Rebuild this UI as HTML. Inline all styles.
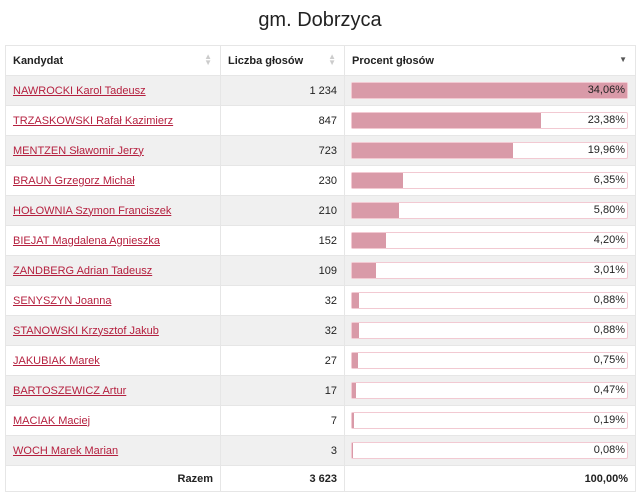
<!DOCTYPE html>
<html><head><meta charset="utf-8"><style>
body{margin:0;background:#fff;font-family:"Liberation Sans",sans-serif;width:640px;height:496px;overflow:hidden}
h1{margin:0;position:absolute;top:9px;left:0;width:640px;text-align:center;font-weight:normal;font-size:20px;color:#222}
table{position:absolute;left:5px;top:45px;width:631px;border-collapse:collapse;font-size:11px;color:#222}
td,th{border:1px solid #e6e6e6;padding:0 7px;height:29px}
th{text-align:left;font-weight:bold;height:29px;position:relative}
th .s{position:absolute;right:8px;top:8px;color:#ccc;font-size:8px;line-height:6px}
tr.r:nth-child(odd) td{background:#f0f0f0}
a{color:#b5203f;text-decoration:underline}
.n{text-align:right}
.bar{position:relative;height:15px;border:1px solid #f2c9d2;border-radius:2px;background:#fff;margin-left:-1px}
.fill{position:absolute;left:0;top:0;bottom:0;background:#d99aa8}
.bar span{position:absolute;right:2px;top:1px}
tfoot td{font-weight:bold;text-align:right;height:25px}
</style></head><body>
<h1>gm. Dobrzyca</h1>
<table>
<thead><tr>
<th style="width:200px">Kandydat<span class="s">▲<br>▼</span></th>
<th style="width:109px">Liczba głosów<span class="s">▲<br>▼</span></th>
<th>Procent głosów<span class="s" style="color:#555;top:11px">▼</span></th>
</tr></thead>
<tbody id="tb"></tbody>
<tfoot><tr><td>Razem</td><td>3 623</td><td>100,00%</td></tr></tfoot>
</table>
<script>
const names=["NAWROCKI Karol Tadeusz","TRZASKOWSKI Rafał Kazimierz","MENTZEN Sławomir Jerzy","BRAUN Grzegorz Michał","HOŁOWNIA Szymon Franciszek","BIEJAT Magdalena Agnieszka","ZANDBERG Adrian Tadeusz","SENYSZYN Joanna","STANOWSKI Krzysztof Jakub","JAKUBIAK Marek","BARTOSZEWICZ Artur","MACIAK Maciej","WOCH Marek Marian"];
const votes=[1234,847,723,230,210,152,109,32,32,27,17,7,3];
const percents=[34.06,23.38,19.96,6.35,5.80,4.20,3.01,0.88,0.88,0.75,0.47,0.19,0.08];
const tb=document.getElementById('tb');
const maxP=Math.max(...percents);
const fmtV=v=>String(v).replace(/\B(?=(\d{3})+(?!\d))/g,' ');
names.forEach((n,i)=>{
  const tr=document.createElement('tr');tr.className='r';
  
  
  const td1=document.createElement('td');
  const a=document.createElement('a');a.href='#';a.textContent=n;
  
  
  td1.appendChild(a);
  const td2=document.createElement('td');td2.className='n';td2.textContent=fmtV(votes[i]);
  
  
  const td3=document.createElement('td');
  const bar=document.createElement('div');bar.className='bar';
  
  
  const f=document.createElement('div');f.className='fill';f.style.width=(percents[i]/maxP*100)+'%';
  
  
  const s=document.createElement('span');s.textContent=percents[i].toFixed(2).replace('.',',')+'%';
  
  
  bar.appendChild(f);bar.appendChild(s);td3.appendChild(bar);
  tr.appendChild(td1);tr.appendChild(td2);tr.appendChild(td3);tb.appendChild(tr);
});
</script>
</body></html>
